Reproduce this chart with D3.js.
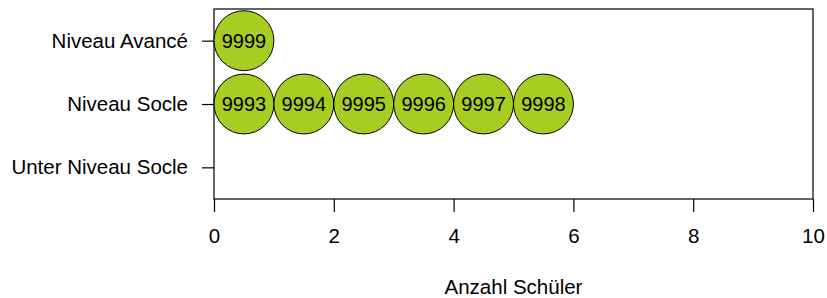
<!DOCTYPE html>
<html lang="en">
	<head>
		<meta charset="utf-8">
		<title>Anzahl Schüler</title>
		<script type="text/javascript" src="https://cdn.jsdelivr.net/npm/d3@7"></script>
		<style type="text/css">
			body { margin: 0; background: #fff; }
			text { font-family: "Liberation Sans", Arial, sans-serif; }
		</style>
	</head>
	<body>
		<script type="text/javascript">
			//Data
			var levels = ["Unter Niveau Socle", "Niveau Socle", "Niveau Avancé"];
			var students = ["9993", "9994", "9995", "9996", "9997", "9998", "9999"];
			var studentLevel = ["Niveau Socle", "Niveau Socle", "Niveau Socle", "Niveau Socle", "Niveau Socle", "Niveau Socle", "Niveau Avancé"];
			var xTicks = [0, 2, 4, 6, 8, 10];

			//Width and height
			var w = 827;
			var h = 298;
			var mLeft = 214, mRight = 813, mTop = 9, mBottom = 199;

			var svg = d3.select("body")
						.append("svg")
						.attr("width", w)
						.attr("height", h);

			var x = d3.scaleLinear().domain([0, 10]).range([mLeft, mRight]);
			var y = d3.scaleLinear().domain([0.5, 3.5]).range([mBottom, mTop]);

			//Stack the dots per level
			var counts = {};
			var dots = students.map(function(s, i) {
				var lv = studentLevel[i];
				counts[lv] = (counts[lv] || 0) + 1;
				return { id: s, level: lv, pos: counts[lv] - 0.5 };
			});

			//Box
			svg.append("rect")
			   .attr("x", mLeft)
			   .attr("y", mTop)
			   .attr("width", mRight - mLeft)
			   .attr("height", mBottom - mTop)
			   .style("fill", "none")
			   .style("stroke", "#000")
			   .style("stroke-width", 1.2);

			//X axis
			var xAxis = svg.append("g")
						   .attr("transform", "translate(0," + mBottom + ")")
						   .call(d3.axisBottom(x).tickValues(xTicks).tickSize(13).tickPadding(16).tickFormat(d3.format("d")));
			xAxis.select(".domain").remove();
			xAxis.selectAll("line").style("stroke-width", 1.2);
			xAxis.selectAll("text").style("font-size", "20.5px").attr("fill", "#000");

			//Y axis
			var yAxis = svg.append("g")
						   .attr("transform", "translate(" + mLeft + ",0)")
						   .call(d3.axisLeft(y).tickValues([1, 2, 3]).tickSize(12).tickPadding(14)
								   .tickFormat(function(d) { return levels[d - 1]; }));
			yAxis.select(".domain").remove();
			yAxis.selectAll("line").style("stroke-width", 1.2);
			yAxis.selectAll("text").style("font-size", "20.5px").attr("fill", "#000");

			//Dots
			var r = x(0.5) - x(0);
			var g = svg.selectAll("g.dot")
					   .data(dots)
					   .enter()
					   .append("g")
					   .attr("class", "dot")
					   .attr("transform", function(d) {
						   return "translate(" + x(d.pos) + "," + y(levels.indexOf(d.level) + 1) + ")";
					   });

			g.append("circle")
			 .attr("r", r)
			 .style("fill", "#a8cd22")
			 .style("stroke", "#000")
			 .style("stroke-width", 1);

			g.append("text")
			 .attr("text-anchor", "middle")
			 .attr("dy", "0.35em")
			 .style("font-size", "20px")
			 .text(function(d) { return d.id; });

			//Axis title
			svg.append("text")
			   .attr("x", (mLeft + mRight) / 2)
			   .attr("y", 294)
			   .attr("text-anchor", "middle")
			   .style("font-size", "20.5px")
			   .text("Anzahl Schüler");
		</script>
	</body>
</html>
